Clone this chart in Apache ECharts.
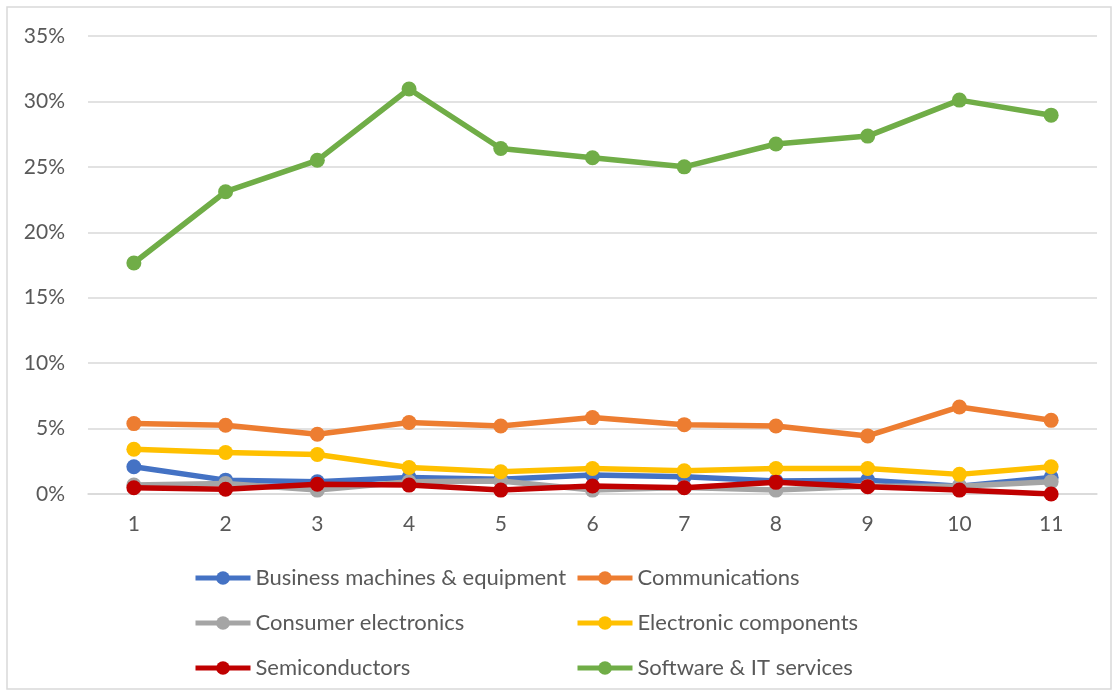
<!DOCTYPE html>
<html><head><meta charset="utf-8">
<script src="https://cdn.jsdelivr.net/npm/echarts@6/dist/echarts.min.js"></script>
<style>html,body{margin:0;padding:0;background:#fff}#c{width:1117px;height:694px}</style>
</head><body><div id="c"></div>
<script>
const categories = ['1','2','3','4','5','6','7','8','9','10','11'];
const seriesNames = ['Business machines & equipment','Communications','Consumer electronics','Electronic components','Semiconductors','Software & IT services'];
const business = [2.08,1.06,0.94,1.27,1.12,1.45,1.32,0.99,1.06,0.60,1.27];
const communications = [5.38,5.25,4.57,5.46,5.20,5.84,5.30,5.20,4.44,6.65,5.63];
const consumer = [0.68,0.81,0.30,0.94,0.99,0.30,0.50,0.30,0.60,0.60,0.94];
const components = [3.42,3.17,3.02,2.03,1.70,1.95,1.77,1.95,1.95,1.50,2.08];
const semis = [0.48,0.36,0.74,0.68,0.30,0.61,0.48,0.89,0.56,0.30,0.00];
const software = [17.65,23.1,25.5,30.95,26.4,25.7,25.0,26.75,27.35,30.1,28.95];
const yTicks = [0,5,10,15,20,25,30,35];
const colors = ['#4472C4','#ED7D31','#A5A5A5','#FFC000','#C00000','#70AD47'];
const values = [business, communications, consumer, components, semis, software];

const font = 'Lato, "Open Sans", sans-serif';
const chart = echarts.init(document.getElementById('c'));
const series = seriesNames.map((n,i)=>({
  name:n, type:'line', data:values[i], symbol:'circle', symbolSize:15,
  lineStyle:{width:5.5,color:colors[i]}, itemStyle:{color:colors[i]}, z: 2+i
}));
const legendCommon = {
  orient:'vertical', padding:0, itemWidth:55, itemHeight:17, itemGap:23, itemTextGap:5,
  lineStyle:{width:5},
  textStyle:{fontFamily:font,fontSize:22,lineHeight:22,color:'#595959'}
};
chart.setOption({
  animation:false,
  graphic:[{type:'rect',shape:{x:7,y:7,width:1104,height:682},style:{fill:'none',stroke:'#d9d9d9',lineWidth:1.5}}],
  grid:{left:88,right:20,top:36,bottom:200,containLabel:false},
  xAxis:{type:'category',data:categories,boundaryGap:true,
    axisLine:{lineStyle:{color:'#d9d9d9',width:1.5}},axisTick:{show:false},
    axisLabel:{fontFamily:font,fontSize:21,color:'#595959',margin:20}},
  yAxis:{type:'value',min:yTicks[0],max:yTicks[yTicks.length-1],interval:5,
    axisLine:{show:false},axisTick:{show:false},
    splitLine:{lineStyle:{color:'#d9d9d9',width:1.5}},
    axisLabel:{fontFamily:font,fontSize:21,color:'#595959',margin:23,formatter:v=>v+'%'}},
  legend:[
    Object.assign({},legendCommon,{left:193,top:567,data:[seriesNames[0],seriesNames[2],seriesNames[4]]}),
    Object.assign({},legendCommon,{left:575,top:567,data:[seriesNames[1],seriesNames[3],seriesNames[5]]})
  ],
  series:series
});
</script></body></html>
